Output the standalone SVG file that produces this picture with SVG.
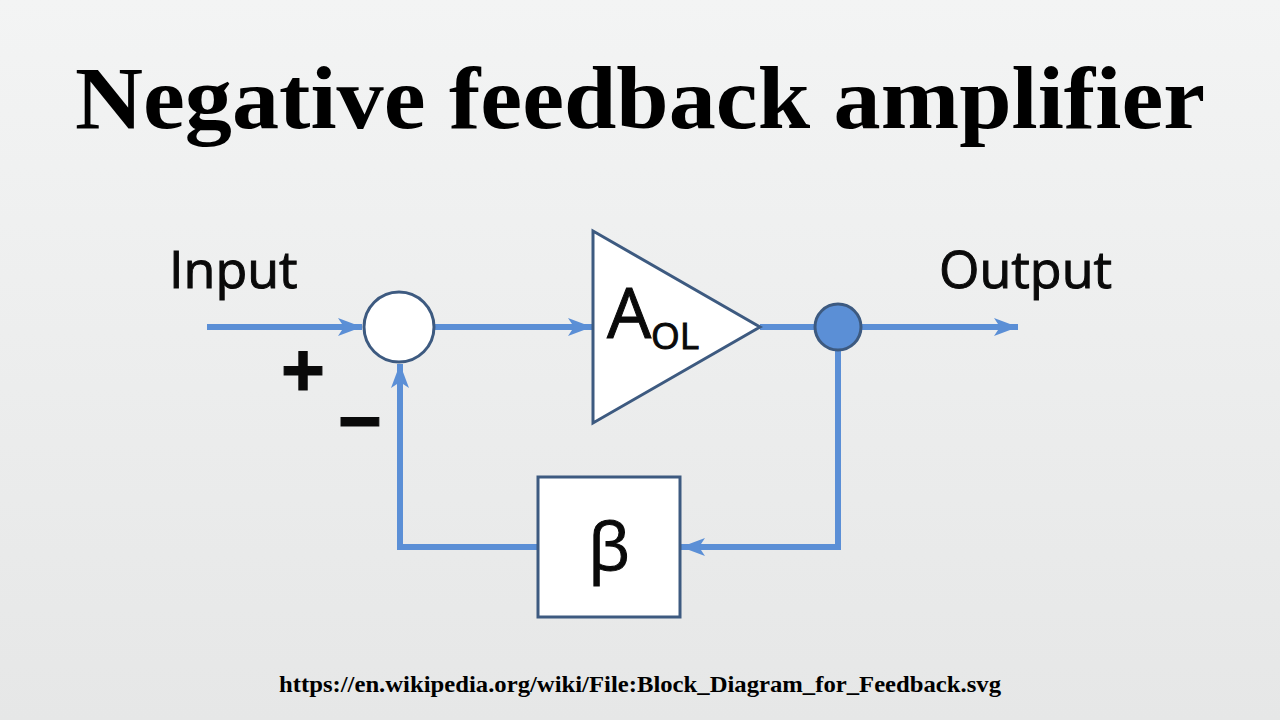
<svg xmlns="http://www.w3.org/2000/svg" width="1280" height="720" viewBox="0 0 1280 720">
<defs>
<linearGradient id="bg" x1="0" y1="0" x2="0" y2="1">
<stop offset="0" stop-color="#f3f4f4"/>
<stop offset="1" stop-color="#e6e7e7"/>
</linearGradient>
<marker id="arr" viewBox="0 0 24 18" refX="24" refY="9" markerWidth="24" markerHeight="18" markerUnits="userSpaceOnUse" orient="auto">
<path d="M0,0 L24,9 L0,18 L6,9 Z" fill="#5b8fd6"/>
</marker>
<style>
.title{font-family:"Liberation Serif",serif;font-weight:bold;fill:#000}
.lbl{font-family:"Open Sans","Liberation Sans",sans-serif;fill:#0a0a0a;stroke:#0a0a0a;stroke-width:1}
.wire{fill:none;stroke:#5b8fd6;stroke-width:6}
.shape{stroke:#3d5a80;stroke-width:3}
</style>
</defs>
<rect width="1280" height="720" fill="url(#bg)"/>
<text class="title" x="640" y="128" font-size="88" text-anchor="middle" textLength="1130" lengthAdjust="spacingAndGlyphs">Negative feedback amplifier</text>
<g id="connectors">
<line class="wire" x1="207" y1="327" x2="362" y2="327" marker-end="url(#arr)"/>
<line class="wire" x1="435" y1="327" x2="592" y2="327" marker-end="url(#arr)"/>
<line class="wire" x1="760" y1="327" x2="815" y2="327"/>
<line class="wire" x1="861" y1="327" x2="1018" y2="327" marker-end="url(#arr)"/>
<polyline class="wire" points="838,350 838,547 681,547" marker-end="url(#arr)"/>
<polyline class="wire" points="538,547 400,547 400,364" marker-end="url(#arr)"/>
</g>
<g id="sum">
<circle class="shape" cx="399" cy="327" r="35" fill="#ffffff"/>
</g>
<g id="amp">
<polygon class="shape" points="593,231 760,327 593,423" fill="#ffffff"/>
<text class="lbl" x="607" y="338" font-size="70">A</text>
<text class="lbl" x="651" y="349" font-size="37">OL</text>
</g>
<g id="node">
<circle class="shape" cx="838" cy="327" r="23" fill="#5b8fd6"/>
</g>
<g id="beta">
<rect class="shape" x="538" y="477" width="142" height="140" fill="#ffffff"/>
<text class="lbl" x="609" y="570" font-size="66" text-anchor="middle">β</text>
</g>
<g id="labels">
<text class="lbl" x="169" y="288" font-size="52">Input</text>
<text class="lbl" x="939" y="288" font-size="52">Output</text>
<text class="lbl" x="303" y="399" font-size="78" font-weight="bold" text-anchor="middle">+</text>
<text class="lbl" x="360" y="449" font-size="78" font-weight="bold" text-anchor="middle">−</text>
</g>
<text class="title" x="640" y="692" font-size="23" text-anchor="middle" textLength="722" lengthAdjust="spacingAndGlyphs">https://en.wikipedia.org/wiki/File:Block_Diagram_for_Feedback.svg</text>
</svg>
